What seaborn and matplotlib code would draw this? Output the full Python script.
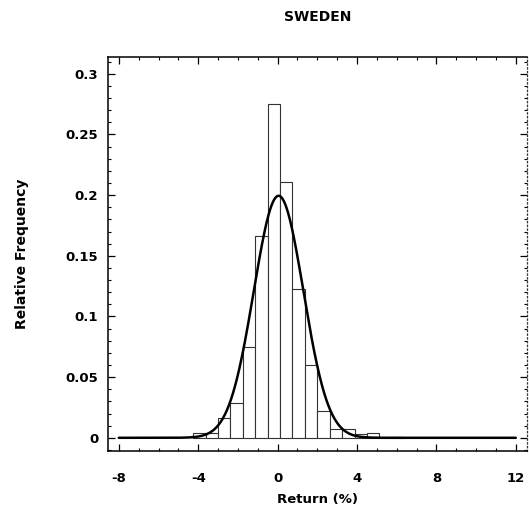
import numpy as np
import pandas as pd
import matplotlib
matplotlib.use("Agg")
import matplotlib.pyplot as plt
import seaborn as sns
from matplotlib.ticker import MultipleLocator

# ---- data ----
bin_edges = [-4.25, -3.625, -3.0, -2.375, -1.75, -1.125, -0.5, 0.125, 0.75,
             1.375, 2.0, 2.625, 3.25, 3.875, 4.5, 5.125, 5.75, 6.375]
rel_freq = [0.004, 0.004, 0.0165, 0.0286, 0.0745, 0.166, 0.2753, 0.2108,
            0.1228, 0.0596, 0.0223, 0.007, 0.007, 0.003, 0.004, 0.0, 0.001]
fit_mean = 0.05      # fitted normal, mean (%)
fit_std = 1.25       # fitted normal, std (%)
bin_width = 0.625
curve_range = (-8, 12)
x_ticks = [-8, -4, 0, 4, 8, 12]
y_ticks = [0, 0.05, 0.1, 0.15, 0.2, 0.25, 0.3]
y_tick_labels = ["0", "0.05", "0.1", "0.15", "0.2", "0.25", "0.3"]

sns.set_theme(style="white")
plt.rcParams["font.family"] = ["DejaVu Sans"]
plt.rcParams["font.weight"] = "bold"
plt.rcParams["text.color"] = "black"
plt.rcParams["axes.labelcolor"] = "black"

fig = plt.figure(figsize=(5.29, 5.26), dpi=100)
ax = fig.add_axes([0.204, 0.143, 0.792, 0.749])

centers = [(bin_edges[i] + bin_edges[i + 1]) / 2 for i in range(len(rel_freq))]
hist_df = pd.DataFrame({"ret": centers, "freq": rel_freq})
sns.histplot(data=hist_df, x="ret", weights="freq", bins=bin_edges, stat="count",
             fill=True, color="white", edgecolor="#333333", linewidth=0.8,
             alpha=1.0, ax=ax)

xs = np.linspace(curve_range[0], curve_range[1], 600)
ys = bin_width * np.exp(-0.5 * ((xs - fit_mean) / fit_std) ** 2) / (fit_std * np.sqrt(2 * np.pi))
curve_df = pd.DataFrame({"x": xs, "y": ys})
sns.lineplot(data=curve_df, x="x", y="y", color="black", linewidth=1.8, ax=ax)

ax.set_xlim(-8.55, 12.56)
ax.set_ylim(-0.0107, 0.314)
ax.set_xticks(x_ticks)
ax.set_xticklabels([str(t) for t in x_ticks])
ax.set_yticks(y_ticks)
ax.set_yticklabels(y_tick_labels)
ax.xaxis.set_minor_locator(MultipleLocator(1))
ax.yaxis.set_minor_locator(MultipleLocator(0.01))

ax.tick_params(axis="both", which="both", direction="in", colors="black",
               top=True, right=True, bottom=True, left=True)
ax.tick_params(axis="both", which="major", length=5, width=0.9, labelsize=9.5)
ax.tick_params(axis="both", which="minor", length=2.5, width=0.8)
ax.tick_params(axis="x", which="major", pad=15)
ax.tick_params(axis="y", which="major", pad=7)
for lab in ax.get_xticklabels() + ax.get_yticklabels():
    lab.set_fontweight("bold")
    lab.set_color("black")

for side in ["left", "bottom", "top"]:
    ax.spines[side].set_color("black")
    ax.spines[side].set_linewidth(1.1)
ax.spines["right"].set_color("#333333")
ax.spines["right"].set_linewidth(0.9)
ax.spines["right"].set_linestyle((0, (1, 2)))

ax.set_xlabel("Return (%)", fontsize=9.5, fontweight="bold", labelpad=6, color="black")
ax.set_ylabel("Relative Frequency", fontsize=10, fontweight="bold", labelpad=26, color="black")
ax.set_title("SWEDEN", fontsize=10, fontweight="bold", pad=26, color="black")
ax.grid(False)

fig.savefig("out.png", dpi=100, facecolor="white")
